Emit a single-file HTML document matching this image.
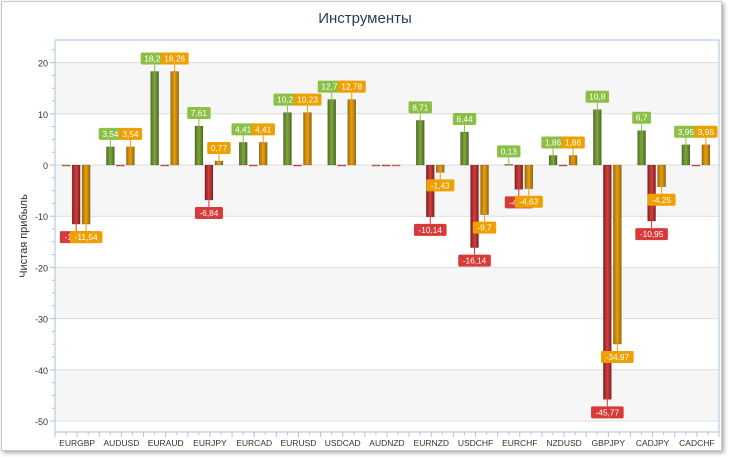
<!DOCTYPE html>
<html><head><meta charset="utf-8"><style>
html,body{margin:0;padding:0;background:#fff;}
#wrap{position:relative;width:729px;height:457px;overflow:hidden;font-family:"Liberation Sans",sans-serif;}
#frame{position:absolute;left:1px;top:1px;width:719px;height:448px;border:1px solid #c8c8c8;box-shadow:2px 2px 4px #aaa;background:#fff;}
</style></head><body>
<div id="wrap">
<div id="frame"></div>
<svg id="chart" width="729" height="457" style="position:absolute;left:0;top:0">
<defs>
<linearGradient id="gG" x1="0" x2="1"><stop offset="0" stop-color="#4f7220"/><stop offset="0.5" stop-color="#7fa83c"/><stop offset="1" stop-color="#4a6a1c"/></linearGradient>
<linearGradient id="gR" x1="0" x2="1"><stop offset="0" stop-color="#8a1c1c"/><stop offset="0.5" stop-color="#d04040"/><stop offset="1" stop-color="#8a1c1c"/></linearGradient>
<linearGradient id="gO" x1="0" x2="1"><stop offset="0" stop-color="#a86c00"/><stop offset="0.5" stop-color="#e8a010"/><stop offset="1" stop-color="#9a6400"/></linearGradient>
</defs>
<text x="365" y="23" text-anchor="middle" font-size="15" fill="#2a3a5a" font-family="Liberation Sans, sans-serif">Инструменты</text>
<text transform="translate(27,236) rotate(-90)" text-anchor="middle" font-size="11" fill="#333">Чистая прибыль</text>
</svg>
</div>
<script>
const categories=["EURGBP","AUDUSD","EURAUD","EURJPY","EURCAD","EURUSD","USDCAD","AUDNZD","EURNZD","USDCHF","EURCHF","NZDUSD","GBPJPY","CADJPY","CADCHF"];
const profit=[0,3.54,18.26,7.61,4.41,10.23,12.78,0,8.71,6.44,0.13,1.86,10.8,6.7,3.95];
const loss=[-11.54,0,0,-6.84,0,0,0,0,-10.14,-16.14,-4.76,0,-45.77,-10.95,0];
const net=[-11.54,3.54,18.26,0.77,4.41,10.23,12.78,0,-1.43,-9.7,-4.63,1.86,-34.97,-4.25,3.95];
const yTicks=[20,10,0,-10,-20,-30,-40,-50];

const svg=document.getElementById('chart');
const NS='http://www.w3.org/2000/svg';
const L=55,R=719,T=40,B=432;
function y(v){return 165-v*5.12;}
const step=(R-L)/categories.length;
function x(i){return L+step*(i+0.5);}
function el(t,a,parent){const e=document.createElementNS(NS,t);for(const k in a)e.setAttribute(k,a[k]);(parent||svg).appendChild(e);return e;}
const plot=el('g',{});


for(let i=0;i<yTicks.length-1;i++){
  if(i%2===0){const b=el('rect',{x:L,y:y(yTicks[i]),width:R-L,height:y(yTicks[i+1])-y(yTicks[i]),fill:'#f6f6f6'},plot);
  
  }
}
yTicks.forEach(v=>{
  const g=el('line',{x1:L,x2:R,y1:y(v),y2:y(v),stroke:'#dcdcdc'},plot);
  
  
  const t=el('text',{x:L-7,y:y(v)+4,'text-anchor':'end','font-size':9,fill:'#333'});
  t.textContent=v;
  
  
});
el('rect',{x:L,y:T,width:R-L,height:B-T,fill:'none',stroke:'#a8c4e0'});
for(let v=25;v>=-55;v-=2.5){const yy=y(v);if(yy<T||yy>B)continue;el('line',{x1:L-(v%10===0?5:3),x2:L,y1:yy,y2:yy,stroke:'#a8c4e0'});}
for(let i=0;i<=categories.length*4;i++){const xx=L+step*i/4;el('line',{x1:xx,x2:xx,y1:B,y2:B+(i%2?3:5),stroke:'#a8c4e0'});}
categories.forEach((c,i)=>{
  const t=el('text',{x:x(i),y:B+14,'text-anchor':'middle','font-size':8.5,fill:'#333'});
  t.textContent=c;
  
  
});
const series=[{d:profit,off:-11,fill:'url(#gG)',lab:'#8cbf45',name:'profit'},{d:loss,off:-1,fill:'url(#gR)',lab:'#d83a3a',name:'loss'},{d:net,off:9,fill:'url(#gO)',lab:'#eea000',name:'net'}];
const labels=[];
series.forEach(s=>{
  s.d.forEach((v,i)=>{
    const cx=x(i)+s.off, w=8;
    const y0=y(0), y1=y(v);
    const top=Math.min(y0,y1), h=Math.max(Math.abs(y1-y0),1);
    const r=el('rect',{x:cx-w/2,y:top,width:w,height:h,fill:s.fill,stroke:v===0?'#c06060':'rgba(0,0,0,0.3)','stroke-width':0.5});
    
    
    if(v!==0){
      const up=v>0, ly=up?y1-7:y1+7;
      el('line',{x1:cx,x2:cx,y1:y1,y2:ly,stroke:s.lab});
      const txt=String(v).replace('.',',');
      const bw=txt.length*4.6+5, by=up?ly-12:ly;
      labels.push({cx,by,bw,txt,c:s.lab,name:s.name,cat:categories[i]});
    }
  });
});
labels.forEach(l=>{
  const g=el('g',{});
  
  
  el('rect',{x:l.cx-l.bw/2,y:l.by,width:l.bw,height:12,rx:1.5,fill:l.c},g);
  const t=el('text',{x:l.cx,y:l.by+9,'text-anchor':'middle','font-size':8.3,fill:'#fff'},g);
  t.textContent=l.txt;
});
</script>
</body></html>
